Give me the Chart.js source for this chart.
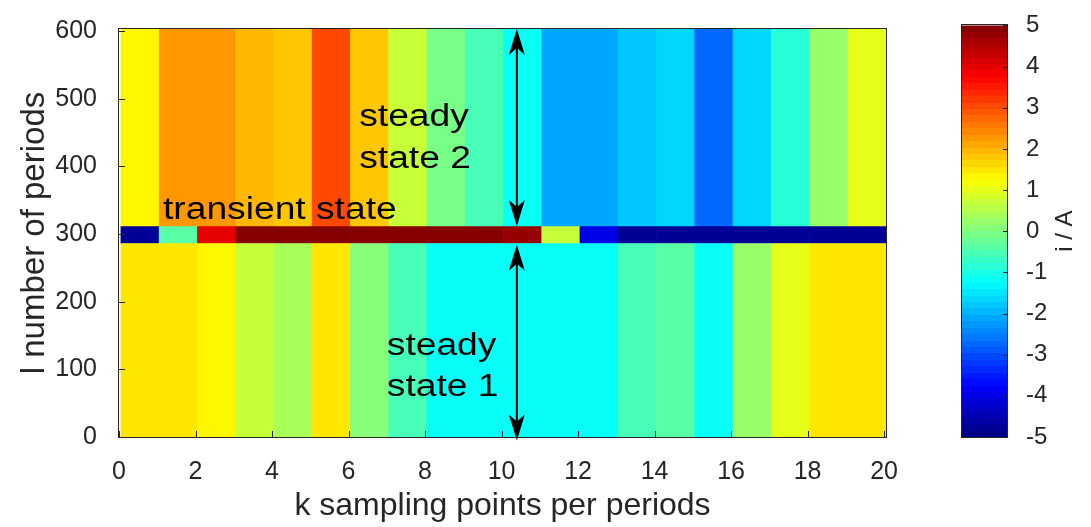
<!DOCTYPE html>
<html>
<head>
<meta charset="utf-8">
<script src="https://cdn.jsdelivr.net/npm/chart.js@4.4.1/dist/chart.umd.min.js"></script>
<style>
  html, body { margin: 0; padding: 0; background: #fff; }
  #wrap { position: relative; width: 1091px; height: 527px; }
  #main { position: absolute; left: 0; top: 0; }
  #cbar { position: absolute; left: 920px; top: 0; }
</style>
</head>
<body>
<div id="wrap">
  <canvas id="main" width="1091" height="527"></canvas>
  <canvas id="cbar" width="171" height="527"></canvas>
</div>
<script>
// k sampling points (one column each)
const kPoints = [1, 2, 3, 4, 5, 6, 7, 8, 9, 10, 11, 12, 13, 14, 15, 16, 17, 18, 19, 20];

// l ranges (number of periods) of the three states
const steady1Rows = [0, 286];
const transientRows = [286, 311];
const steady2Rows = [311, 603];

// current i / A for every column, per state
const steady1 = [1.55, 1.5, 1.25, 0.7, 0.4, 1.5, 0.1, -0.6, -1.25, -1.25, -1.25, -1.25, -1.1, -0.6, -0.45, -1.25, 0.25, 0.95, 1.45, 1.5];
const transient = [-4.8, -0.4, 4.0, 5, 5, 5, 5, 5, 5, 5, 4.8, 0.7, -4.0, -4.8, -4.8, -4.8, -4.8, -4.8, -4.8, -4.8];
const steady2 = [1.4, 2.2, 2.3, 1.9, 1.75, 3.0, 1.85, 0.7, -0.1, -0.6, -1.15, -2.1, -2.15, -1.8, -1.6, -2.8, -1.7, -0.8, 0.3, 0.95];

const xTicks = [0, 2, 4, 6, 8, 10, 12, 14, 16, 18, 20];
const yTicks = [0, 100, 200, 300, 400, 500, 600];
const cbTicks = [-5, -4, -3, -2, -1, 0, 1, 2, 3, 4, 5];
const cbMin = -5, cbMax = 5;

const FONT = "'Liberation Sans', Arial, Helvetica, sans-serif";
const AXIS = '#262626';

// matlab jet, 64 levels
function jetAt(t) {
	const c = (v) => Math.round(255 * Math.max(0, Math.min(1, v)));
	const r = Math.min(4 * t - 1.5, -4 * t + 4.5);
	const g = Math.min(4 * t - 0.5, -4 * t + 3.5);
	const b = Math.min(4 * t + 0.5, -4 * t + 2.5);
	return `rgb(${c(r)}, ${c(g)}, ${c(b)})`;
}
function jet(v) {
	let i = Math.floor(((v - cbMin) / (cbMax - cbMin)) * 64);
	i = Math.max(0, Math.min(63, i));
	return jetAt((i + 0.5) / 64);
}

function band(rows, vals) {
	return {
		data: kPoints.map((k) => ({ x: k - 0.45, y: rows })),
		backgroundColor: vals.map(jet),
		borderWidth: 0,
		stack: "heat",
		barPercentage: 1,
		categoryPercentage: 1,
	};
}

function drawText(ctx, str, x, y, size, sx) {
	ctx.save();
	ctx.translate(x, y);
	ctx.scale(sx, 1);
	ctx.font = `${size}px ${FONT}`;
	ctx.fillStyle = "#000";
	ctx.textBaseline = "alphabetic";
	ctx.textAlign = "left";
	ctx.fillText(str, 0, 0);
	ctx.restore();
}

function arrowHead(ctx, x, tipY, dir) {
	// dir = -1 points up, 1 points down
	const len = 26, half = 8, notch = 19;
	ctx.beginPath();
	ctx.moveTo(x, tipY);
	ctx.lineTo(x - half, tipY - dir * len);
	ctx.lineTo(x, tipY - dir * notch);
	ctx.lineTo(x + half, tipY - dir * len);
	ctx.closePath();
	ctx.fill();
}

function doubleArrow(ctx, x, yTop, yBot) {
	ctx.save();
	ctx.strokeStyle = "#000";
	ctx.fillStyle = "#000";
	ctx.lineWidth = 2;
	ctx.beginPath();
	ctx.moveTo(x, yTop + 10);
	ctx.lineTo(x, yBot - 10);
	ctx.stroke();
	arrowHead(ctx, x, yTop, -1);
	arrowHead(ctx, x, yBot, 1);
	ctx.restore();
}

const mainFrame = {
	id: "mainFrame",
	afterDatasetsDraw(chart) {
		const { ctx, chartArea: a, scales } = chart;
		const xs = scales.x, ys = scales.y;
		ctx.save();
		ctx.strokeStyle = AXIS;
		ctx.lineWidth = 1;
		ctx.strokeRect(Math.round(a.left) - 0.5, Math.round(a.top) - 0.5, Math.round(a.right - a.left) + 1, Math.round(a.bottom - a.top) + 1);
		ctx.beginPath();
		yTicks.forEach((v) => {
			const py = Math.round(ys.getPixelForValue(v)) + 0.5;
			ctx.moveTo(a.left, py);
			ctx.lineTo(a.left + 6, py);
		});
		xTicks.forEach((v) => {
			const px = Math.round(xs.getPixelForValue(v)) + 0.5;
			ctx.moveTo(px, a.bottom);
			ctx.lineTo(px, a.bottom - 6);
		});
		ctx.stroke();
		ctx.restore();

		// annotations
		drawText(ctx, "steady", xs.getPixelForValue(6.28), ys.getPixelForValue(460), 31, 1.2);
		drawText(ctx, "state 2", xs.getPixelForValue(6.28), ys.getPixelForValue(397), 31, 1.2);
		drawText(ctx, "transient state", xs.getPixelForValue(1.15), ys.getPixelForValue(322), 31, 1.2);
		drawText(ctx, "steady", xs.getPixelForValue(7.0), ys.getPixelForValue(121), 31, 1.2);
		drawText(ctx, "state 1", xs.getPixelForValue(7.0), ys.getPixelForValue(60), 31, 1.2);

		const ax = xs.getPixelForValue(10.4);
		doubleArrow(ctx, ax, ys.getPixelForValue(603), ys.getPixelForValue(312));
		doubleArrow(ctx, ax, ys.getPixelForValue(284), ys.getPixelForValue(-5));
	},
};

new Chart(document.getElementById("main"), {
	type: "bar",
	data: {
		datasets: [band(steady1Rows, steady1), band(transientRows, transient), band(steady2Rows, steady2)],
	},
	options: {
		responsive: false,
		animation: false,
		layout: { padding: { left: 15, right: 205, top: 19, bottom: 0 } },
		plugins: { legend: { display: false }, tooltip: { enabled: false } },
		scales: {
			x: {
				type: "linear",
				min: 0,
				max: 20.05,
				offset: false,
				afterBuildTicks: (s) => { s.ticks = xTicks.map((v) => ({ value: v })); },
				afterFit: (s) => { s.height = 90; },
				grid: { display: false },
				border: { display: false },
				ticks: { font: { size: 25, family: FONT }, color: AXIS, padding: 12, maxRotation: 0, autoSkip: false },
				title: {
					display: true,
					text: "k sampling points per periods",
					font: { size: 32, family: FONT },
					color: AXIS,
					padding: { top: 0, bottom: 2 },
				},
			},
			y: {
				type: "linear",
				min: 0,
				max: 603,
				stacked: false,
				afterBuildTicks: (s) => { s.ticks = yTicks.map((v) => ({ value: v })); },
				afterFit: (s) => { s.width = 104; },
				grid: { display: false },
				border: { display: false },
				ticks: { font: { size: 25, family: FONT }, color: AXIS, padding: 14 },
				title: {
					display: true,
					text: "l number of periods",
					font: { size: 33, family: FONT },
					color: AXIS,
					padding: { top: 0, bottom: 0 },
				},
			},
		},
	},
	plugins: [mainFrame],
});

// colorbar
const cbFrame = {
	id: "cbFrame",
	afterDatasetsDraw(chart) {
		const { ctx, chartArea: a, scales } = chart;
		ctx.save();
		ctx.strokeStyle = AXIS;
		ctx.lineWidth = 1;
		ctx.strokeRect(Math.round(a.left) - 0.5, Math.round(a.top) - 0.5, Math.round(a.right - a.left) + 1, Math.round(a.bottom - a.top) + 1);
		ctx.beginPath();
		cbTicks.forEach((v) => {
			const py = Math.round(scales.y.getPixelForValue(v)) + 0.5;
			ctx.moveTo(a.right, py);
			ctx.lineTo(a.right - 4, py);
		});
		ctx.stroke();
		ctx.translate(145, (a.top + a.bottom) / 2);
		ctx.rotate(-Math.PI / 2);
		ctx.font = `24px ${FONT}`;
		ctx.fillStyle = AXIS;
		ctx.textAlign = "center";
		ctx.textBaseline = "middle";
		ctx.fillText("i / A", 0, 0);
		ctx.restore();
	},
};

new Chart(document.getElementById("cbar"), {
	type: "bar",
	data: {
		labels: ["i"],
		datasets: [
			{
				data: [[cbMin, cbMax]],
				backgroundColor: (c) => {
					const ca = c.chart.chartArea;
					if (!ca) return "transparent";
					const g = c.chart.ctx.createLinearGradient(0, ca.bottom, 0, ca.top);
					for (let i = 0; i < 64; i++) {
						const col = jetAt((i + 0.5) / 64);
						g.addColorStop(i / 64, col);
						g.addColorStop((i + 1) / 64, col);
					}
					return g;
				},
				borderWidth: 0,
				barPercentage: 1,
				categoryPercentage: 1,
			},
		],
	},
	options: {
		responsive: false,
		animation: false,
		layout: { padding: { left: 42, right: 0, top: 19, bottom: 90 } },
		plugins: { legend: { display: false }, tooltip: { enabled: false } },
		scales: {
			x: { display: false },
			y: {
				position: "right",
				min: cbMin,
				max: cbMax,
				afterBuildTicks: (s) => { s.ticks = cbTicks.map((v) => ({ value: v })); },
				afterFit: (s) => { s.width = 84; },
				grid: { display: false },
				border: { display: false },
				ticks: { font: { size: 24, family: FONT }, color: AXIS, padding: 11 },
			},
		},
	},
	plugins: [cbFrame],
});
</script>
</body>
</html>
